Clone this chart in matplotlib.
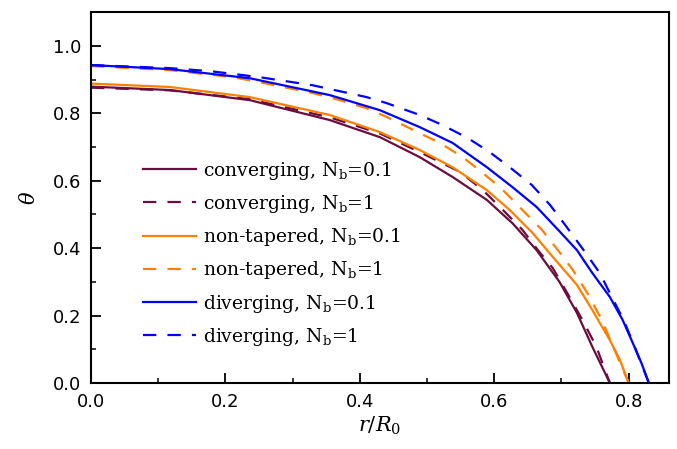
import numpy as np
import matplotlib
matplotlib.use("Agg")
import matplotlib.pyplot as plt
from matplotlib.ticker import MultipleLocator

plt.rcParams["mathtext.fontset"] = "custom"
plt.rcParams["mathtext.rm"] = "DejaVu Serif"
plt.rcParams["mathtext.it"] = "DejaVu Serif:italic"

# theta vs r/R0
conv_x1 = [0.0, 0.117, 0.236, 0.355, 0.430, 0.489, 0.538, 0.589, 0.627, 0.663, 0.697, 0.723, 0.746, 0.772]
conv_y1 = [0.879, 0.869, 0.839, 0.780, 0.729, 0.670, 0.611, 0.543, 0.474, 0.394, 0.300, 0.208, 0.107, 0.0]

conv_x2 = [0.0, 0.117, 0.236, 0.355, 0.430, 0.489, 0.549, 0.583, 0.613, 0.642, 0.665, 0.687, 0.712, 0.732, 0.752, 0.772]
conv_y2 = [0.876, 0.868, 0.842, 0.788, 0.740, 0.685, 0.626, 0.572, 0.513, 0.454, 0.394, 0.341, 0.255, 0.184, 0.107, 0.0]

flat_x1 = [0.0, 0.117, 0.236, 0.355, 0.430, 0.489, 0.538, 0.589, 0.623, 0.657, 0.687, 0.723, 0.746, 0.772, 0.787, 0.800]
flat_y1 = [0.888, 0.878, 0.848, 0.795, 0.744, 0.691, 0.640, 0.572, 0.513, 0.445, 0.374, 0.291, 0.216, 0.127, 0.068, 0.0]

flat_x2 = [0.0, 0.117, 0.211, 0.251, 0.330, 0.370, 0.410, 0.440, 0.489, 0.519, 0.553, 0.583, 0.613, 0.642,
           0.671, 0.697, 0.717, 0.739, 0.760, 0.779, 0.800]
flat_y2 = [0.940, 0.928, 0.907, 0.892, 0.860, 0.839, 0.815, 0.789, 0.741, 0.712, 0.670, 0.623, 0.572, 0.513,
           0.454, 0.388, 0.335, 0.265, 0.187, 0.098, 0.0]

div_x1 = [0.0, 0.117, 0.236, 0.355, 0.430, 0.489, 0.538, 0.589, 0.627, 0.663, 0.697, 0.723, 0.746, 0.772,
          0.791, 0.806, 0.819, 0.830]
div_y1 = [0.943, 0.931, 0.904, 0.854, 0.809, 0.759, 0.712, 0.640, 0.581, 0.522, 0.450, 0.394, 0.326, 0.255,
          0.187, 0.119, 0.059, 0.0]

div_x2 = [0.0, 0.117, 0.177, 0.251, 0.330, 0.410, 0.440, 0.489, 0.523, 0.561, 0.593, 0.623, 0.656, 0.683,
          0.708, 0.733, 0.757, 0.775, 0.793, 0.809, 0.830]
div_y2 = [0.943, 0.934, 0.925, 0.907, 0.883, 0.848, 0.830, 0.795, 0.765, 0.726, 0.685, 0.640, 0.587, 0.528,
          0.462, 0.394, 0.326, 0.255, 0.184, 0.107, 0.0]

wine = "#6b0d3d"
orange = "#ff8000"
blue = "#0000ff"
dash = (6, 5)

fig = plt.figure(figsize=(6.77, 4.49), dpi=100)
ax = fig.add_axes([0.1344, 0.147, 0.8538, 0.826])

lw = 1.6
kw = dict(lw=lw, solid_joinstyle="round", dash_joinstyle="round")
ax.plot(conv_x1, conv_y1, color=wine, label="converging, N$_{\\mathrm{b}}$=0.1", **kw)
ax.plot(conv_x2, conv_y2, color=wine, dashes=dash, label="converging, N$_{\\mathrm{b}}$=1", **kw)
ax.plot(flat_x1, flat_y1, color=orange, label="non-tapered, N$_{\\mathrm{b}}$=0.1", **kw)
ax.plot(flat_x2, flat_y2, color=orange, dashes=dash, label="non-tapered, N$_{\\mathrm{b}}$=1", **kw)
ax.plot(div_x1, div_y1, color=blue, label="diverging, N$_{\\mathrm{b}}$=0.1", **kw)
ax.plot(div_x2, div_y2, color=blue, dashes=dash, label="diverging, N$_{\\mathrm{b}}$=1", **kw)

ax.set_xlim(0, 0.86)
ax.set_ylim(0, 1.1)
ax.set_xticks([0.0, 0.2, 0.4, 0.6, 0.8])
ax.set_yticks([0.0, 0.2, 0.4, 0.6, 0.8, 1.0])
ax.xaxis.set_minor_locator(MultipleLocator(0.1))
ax.yaxis.set_minor_locator(MultipleLocator(0.1))
ax.tick_params(which="major", direction="in", length=7, width=1.3, labelsize=13, pad=7)
ax.tick_params(which="minor", direction="in", length=3.6, width=1.1)
for s in ax.spines.values():
    s.set_linewidth(1.5)

ax.set_xlabel("$r/R_{\\mathrm{0}}$", fontsize=15, labelpad=3)
ax.set_ylabel("$\\theta$", fontsize=15, labelpad=10)

leg = ax.legend(loc="upper left", bbox_to_anchor=(0.09, 0.602), frameon=False,
                borderaxespad=0, borderpad=0, handlelength=2.8, handletextpad=0.4,
                labelspacing=0.6, prop={"family": "DejaVu Serif", "size": 13.5})

fig.savefig("out.png", dpi=100)
